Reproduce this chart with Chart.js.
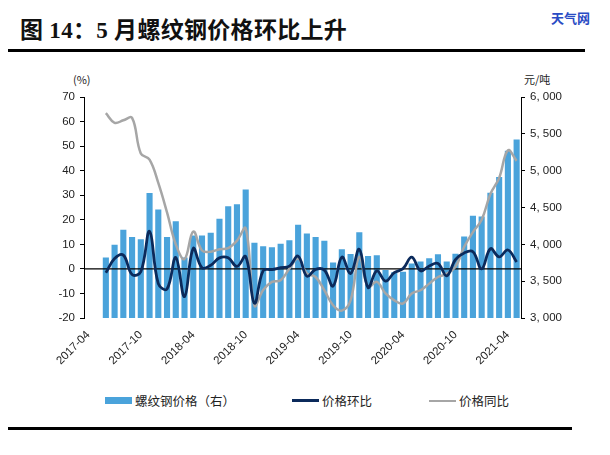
<!DOCTYPE html>
<html>
<head>
<meta charset="utf-8">
<script src="https://cdn.jsdelivr.net/npm/chart.js@4/dist/chart.umd.min.js"></script>
<style>
body { margin:0; width:610px; height:455px; position:relative; background:#fff; overflow:hidden;
       font-family:"Noto Sans CJK SC", sans-serif; color:#222; }
#title { position:absolute; left:20px; top:11px; font-family:"Liberation Serif","Noto Sans CJK SC",serif;
         font-weight:bold; font-size:23px; color:#111; white-space:nowrap; letter-spacing:0.3px; }
#mark { position:absolute; left:551px; top:8px; font-size:13px; font-weight:bold; color:#2a4cc4; }
.rule { position:absolute; left:8px; height:3px; background:#000; }
.unit { position:absolute; top:71px; font-size:11px; color:#222; }
#wrap { position:absolute; left:0; top:60px; width:610px; height:330px; }
#legend { position:absolute; left:105px; top:391px; display:flex; align-items:center; gap:57px;
          font-size:12.5px; color:#222; white-space:nowrap; }
#legend .item { display:flex; align-items:center; }
#legend i { display:inline-block; width:27px; margin-right:3px; }
</style>
</head>
<body>
<div id="title">图 14：5 月螺纹钢价格环比上升</div>
<div id="mark">天气网</div>
<div class="rule" style="top:49px; width:577px"></div>
<div class="unit" style="left:73px">(%)</div>
<div class="unit" style="left:524px">元/吨</div>
<div id="wrap"><canvas id="myChart"></canvas></div>
<div id="legend"></div>
<div class="rule" style="top:427px; width:564px"></div>

<script>
const months = [
  '2017-04','2017-05','2017-06','2017-07','2017-08','2017-09','2017-10','2017-11','2017-12',
  '2018-01','2018-02','2018-03','2018-04','2018-05','2018-06','2018-07','2018-08','2018-09','2018-10','2018-11','2018-12',
  '2019-01','2019-02','2019-03','2019-04','2019-05','2019-06','2019-07','2019-08','2019-09','2019-10','2019-11','2019-12',
  '2020-01','2020-02','2020-03','2020-04','2020-05','2020-06','2020-07','2020-08','2020-09','2020-10','2020-11','2020-12',
  '2021-01','2021-02','2021-03','2021-04','2021-05'
];

// 螺纹钢价格 (元/吨, right axis)
const price = [null, null,
  3820, 3993, 4197, 4100, 4070, 4697, 4473, 4100, 4313, 3820, 4120, 4120, 4157, 4347, 4517, 4543,
  4743, 4023, 3973, 3960, 4007, 4057, 4267, 4147, 4100, 4050, 3753, 3933, 3870, 4163, 3840, 3853,
  3653, 3620, 3627, 3740, 3767, 3810, 3867, 3767, 3873, 4107, 4387, 4377, 4700, 4913, 5270, 5423];

// 价格环比 (%)
const mom = [null, null,
  -1.6, 4.2, 5.6, -2.3, -1.2, 15.3, -6.0, -8.2, 4.6, -11.3, 8.3, 0.5, 1.5, 4.5, 4.5, 1.0,
  5.0, -14.0, -0.7, -0.3, 0.5, 1.1, 5.2, -3.0, -0.2, -0.5, -7.0, 4.8, -1.9, 8.0, -7.6, -0.8,
  -5.0, -1.5, 0.1, 4.8, -0.8, 1.2, 2.2, -2.8, 3.8, 6.5, 7.0, 0.0, 8.2, 4.9, 7.7, 2.8];

// 价格同比 (%)
const yoy = [null, null,
  63.4, 59.5, 60.5, 61.5, 47, 44.5, 35, 23, 10, 4, 15.2, 7.5, 7.0, 8.0, 8.5, 11.5,
  16.5, -15, -8.6, -5.3, -4.6, 0.1, 4.2, -1.9, -3.3, -8.7, -14.8, -17, -12.8, 4.9, -7.3, -5.3,
  -10, -12.8, -14.1, -10, -8.7, -6, -3.3, -2, 0.8, 9, 15, 20, 30.5, 37, 48.3, 44];

const ctx = document.getElementById('myChart').getContext('2d');

// black zero line on the left axis, drawn over the bars but under the lines
const zeroLine = {
  id: 'zeroLine',
  afterDatasetDraw(chart, args) {
    if (args.meta.type !== 'bar') return;
    const c = chart.ctx, area = chart.chartArea;
    const y = chart.scales.y.getPixelForValue(0);
    c.save();
    c.strokeStyle = '#000';
    c.lineWidth = 1.2;
    c.beginPath();
    c.moveTo(area.left, y);
    c.lineTo(area.right, y);
    c.stroke();
    c.restore();
  }
};

const axisFont = { family: "'Liberation Sans', Arial, sans-serif", size: 11.5 };

const myChart = new Chart(ctx, {
  type: 'bar',
  data: {
    labels: months,
    datasets: [{
      type: 'bar',
      label: '螺纹钢价格（右）',
      data: price,
      yAxisID: 'y1',
      backgroundColor: '#4aa3db',
      barPercentage: 0.7,
      categoryPercentage: 1.0,
      order: 3
    }, {
      type: 'line',
      label: '价格环比',
      data: mom,
      yAxisID: 'y',
      borderColor: '#0b2a5b',
      borderWidth: 2.8,
      pointRadius: 0,
      tension: 0.4,
      order: 1
    }, {
      type: 'line',
      label: '价格同比',
      data: yoy,
      yAxisID: 'y',
      borderColor: '#a6a6a6',
      borderWidth: 2.5,
      pointRadius: 0,
      tension: 0.4,
      order: 2
    }]
  },
  plugins: [zeroLine],
  options: {
    responsive: true,
    maintainAspectRatio: false,
    animation: false,
    layout: { padding: { top: 37, left: 0, right: 0, bottom: 0 } },
    plugins: {
      legend: { display: false },
      tooltip: { enabled: false }
    },
    scales: {
      x: {
        offset: true,
        grid: { display: false, drawTicks: false },
        border: { display: false },
        ticks: {
          autoSkip: false,
          maxRotation: 45,
          minRotation: 45,
          padding: 10,
          color: '#222',
          font: axisFont,
          callback: function(value, index) {
            return index % 6 === 0 ? months[index] : '';
          }
        },
        afterFit: function(scale) { scale.height = 72; }
      },
      y: {
        position: 'left',
        min: -20,
        max: 70,
        ticks: { stepSize: 10, padding: 5, color: '#222', font: axisFont },
        grid: { drawOnChartArea: false, tickLength: 4, tickColor: '#000' },
        border: { color: '#000', width: 1 },
        afterFit: function(scale) { scale.width = 84; }
      },
      y1: {
        position: 'right',
        min: 3000,
        max: 6000,
        ticks: {
          stepSize: 500, padding: 5, color: '#222', font: axisFont,
          callback: function(value) {
            return value.toLocaleString('en-US').replace(',', ', ');
          }
        },
        grid: { drawOnChartArea: false, tickLength: 4, tickColor: '#000' },
        border: { color: '#000', width: 1 },
        afterFit: function(scale) { scale.width = 89; }
      }
    }
  }
});

// legend built from the datasets
const legend = document.getElementById('legend');
myChart.data.datasets.forEach(function(ds) {
  const item = document.createElement('span');
  item.className = 'item';
  const sw = document.createElement('i');
  if (ds.type === 'bar') {
    sw.style.height = '7px';
    sw.style.background = ds.backgroundColor;
  } else {
    sw.style.height = (ds.label === '价格环比' ? 3 : 2) + 'px';
    sw.style.background = ds.borderColor;
  }
  item.appendChild(sw);
  item.appendChild(document.createTextNode(ds.label));
  legend.appendChild(item);
});
</script>
</body>
</html>
